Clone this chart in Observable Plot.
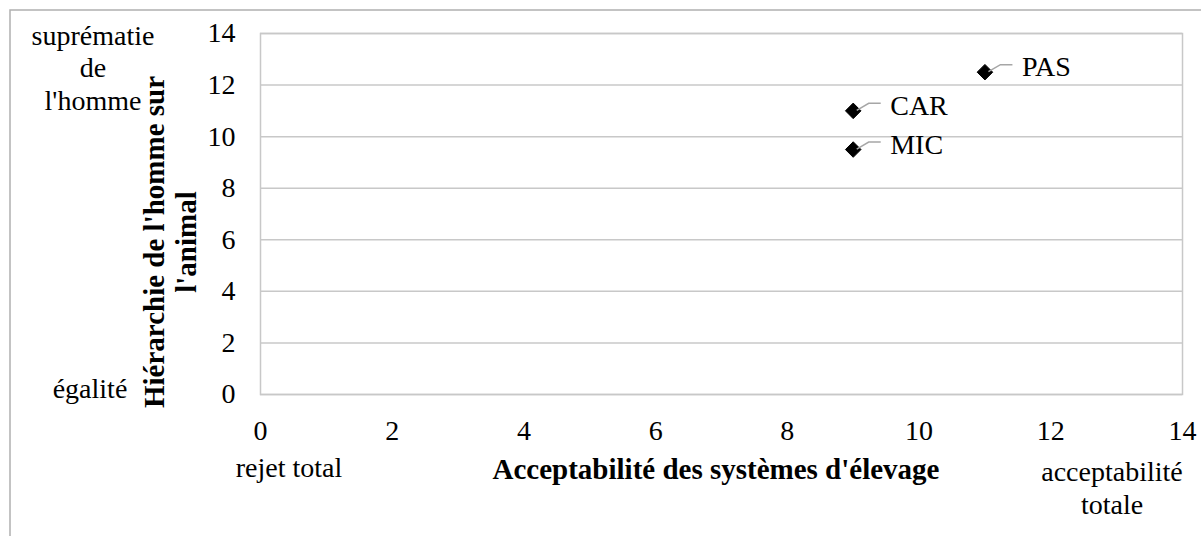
<!DOCTYPE html>
<html>
<head>
<meta charset="utf-8">
<script src="https://cdn.jsdelivr.net/npm/d3@7"></script>
<script src="https://cdn.jsdelivr.net/npm/@observablehq/plot@0.6"></script>
<style>
  html, body { margin: 0; padding: 0; background: #ffffff; }
  #chart svg { display: block; }
</style>
</head>
<body>
<div id="chart"></div>
<script>
// ---- data ----
const systems = ["PAS", "CAR", "MIC"];
const acceptability = [11, 9, 9];        // x values
const hierarchy = [12.5, 11, 9.5];       // y values
const xTicks = [0, 2, 4, 6, 8, 10, 12, 14];
const yTicks = [0, 2, 4, 6, 8, 10, 12, 14];
const xTitle = "Acceptabilité des systèmes d'élevage";
const yTitleLines = ["Hiérarchie de l'homme sur", "l'animal"];
const yTopNote = ["suprématie", "de", "l'homme"];
const yBottomNote = "égalité";
const xLeftNote = "rejet total";
const xRightNote = ["acceptabilité", "totale"];

const points = systems.map((s, i) => ({label: s, x: acceptability[i], y: hierarchy[i]}));

const FONT = "'Liberation Serif', 'Times New Roman', serif";
const FS = 28;
const FS_TITLE = 29;
const GRID = "#c8c8c8";

const plot = Plot.plot({
  width: 1201,
  height: 536,
  marginLeft: 260,
  marginRight: 19,
  marginTop: 33,
  marginBottom: 142,
  x: {domain: [0, 14]},
  y: {domain: [0, 14]},
  style: {fontFamily: FONT, fontSize: FS + "px", color: "#000", background: "#fff"},
  marks: [
    Plot.gridY(yTicks, {stroke: GRID, strokeOpacity: 1, strokeWidth: 1.5}),
    Plot.frame({stroke: GRID, strokeWidth: 1.5}),
    Plot.axisY(yTicks, {tickSize: 0, tickPadding: 25, label: null, fontSize: FS}),
    Plot.axisX(xTicks, {tickSize: 0, tickPadding: 26, label: null, fontSize: FS}),
    Plot.dot(points, {x: "x", y: "y", symbol: "diamond2", r: 7, fill: "#000", stroke: "#000", strokeWidth: 1}),
    Plot.text(points, {x: "x", y: "y", text: "label", textAnchor: "start", dx: 37, dy: -5, fontSize: FS, fill: "#000"})
  ]
});

document.getElementById("chart").appendChild(plot);

const svg = d3.select(plot);
const sx = plot.scale("x"), sy = plot.scale("y");

// leader lines from each point to its label
const leaders = svg.append("g").attr("fill", "none").attr("stroke", "#a6a6a6").attr("stroke-width", 1.5);
points.forEach(p => {
  const px = sx.apply(p.x), py = sy.apply(p.y);
  leaders.append("path").attr("d", `M${px + 4},${py} L${px + 16},${py - 7} L${px + 28},${py - 7}`);
});

// outer chart border
svg.append("rect").attr("x", 10).attr("y", 10).attr("width", 1210).attr("height", 560)
  .attr("fill", "none").attr("stroke", "#b0b0b0").attr("stroke-width", 1.5);

const txt = svg.append("g").attr("font-family", FONT).attr("font-size", FS).attr("fill", "#000");

// top-left note
[45, 77, 110].forEach((yy, i) => {
  txt.append("text").attr("x", 93).attr("y", yy).attr("text-anchor", "middle").text(yTopNote[i]);
});
txt.append("text").attr("x", 90).attr("y", 398).attr("text-anchor", "middle").text(yBottomNote);
txt.append("text").attr("x", 289).attr("y", 477).attr("text-anchor", "middle").text(xLeftNote);
txt.append("text").attr("x", 1112).attr("y", 481).attr("text-anchor", "middle").text(xRightNote[0]);
txt.append("text").attr("x", 1112).attr("y", 514).attr("text-anchor", "middle").text(xRightNote[1]);

// x title
txt.append("text").attr("x", 716).attr("y", 479).attr("text-anchor", "middle")
  .attr("font-weight", "bold").attr("font-size", FS_TITLE).text(xTitle);

// y title (rotated, two lines)
const yt = txt.append("text").attr("transform", "translate(171,242) rotate(-90)")
  .attr("text-anchor", "middle").attr("font-weight", "bold").attr("font-size", FS_TITLE);
yt.append("tspan").attr("x", 0).attr("y", -7).text(yTitleLines[0]);
yt.append("tspan").attr("x", 0).attr("y", 25).text(yTitleLines[1]);
</script>
</body>
</html>
